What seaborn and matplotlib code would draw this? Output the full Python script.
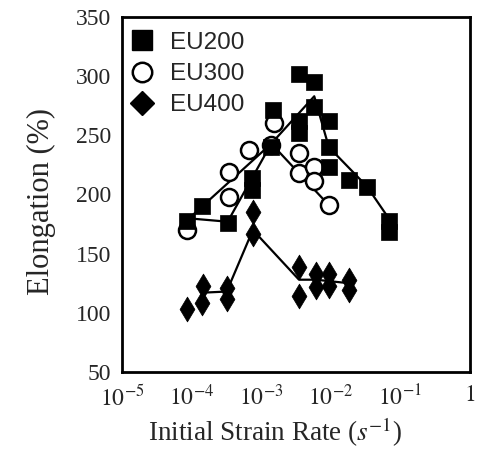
import matplotlib
matplotlib.use("Agg")
import matplotlib.pyplot as plt
from matplotlib.lines import Line2D
from matplotlib.ticker import LogLocator, MultipleLocator, FixedLocator, NullFormatter
import seaborn as sns
import pandas as pd

# Measured elongation versus initial strain rate
rate_eu200 = [8.5e-5, 1.4e-4, 3.3e-4, 7.5e-4, 7.5e-4, 1.4e-3, 1.5e-3, 3.5e-3, 3.5e-3,
              3.5e-3, 5.8e-3, 5.8e-3, 9.3e-3, 9.3e-3, 9.5e-3, 0.0185, 0.033, 0.068, 0.068]
elong_eu200 = [178, 190, 176, 214, 204, 240, 271, 302, 262, 252, 295, 274, 262, 240,
               223, 212, 206, 178, 168]

rate_eu300 = [8.5e-5, 3.5e-4, 3.5e-4, 6.8e-4, 1.4e-3, 1.55e-3, 3.5e-3, 3.5e-3, 5.8e-3,
              5.8e-3, 9.4e-3]
elong_eu300 = [170, 219, 198, 238, 242, 260, 235, 218, 223, 211, 191]

rate_eu400 = [8.5e-5, 1.4e-4, 1.45e-4, 3.2e-4, 3.2e-4, 7.6e-4, 7.6e-4, 3.5e-3, 3.5e-3,
              6.1e-3, 6.1e-3, 9.4e-3, 9.4e-3, 0.0185, 0.0185]
elong_eu400 = [103, 108, 123, 121, 112, 185, 167, 139, 114, 133, 122, 133, 123, 128, 119]

# Trend lines through each series
trend_rate_eu200 = [8.5e-5, 3.3e-4, 1.4e-3, 5.8e-3, 9.4e-3, 0.033, 0.068]
trend_elong_eu200 = [180, 177, 243, 283, 240, 207, 180]
trend_rate_eu300 = [8.5e-5, 1.4e-3, 9.4e-3]
trend_elong_eu300 = [178, 243, 191]
trend_rate_eu400 = [1.4e-4, 3.2e-4, 7.6e-4, 3.5e-3, 6.1e-3, 0.0185]
trend_elong_eu400 = [117, 118, 170, 128, 128, 125]

series_names = ["EU200", "EU300", "EU400"]
x_tick_values = [1e-5, 1e-4, 1e-3, 1e-2, 1e-1, 1]
x_tick_labels = ["$10^{-5}$", "$10^{-4}$", "$10^{-3}$", "$10^{-2}$", "$10^{-1}$", "$1$"]
y_tick_values = [50, 100, 150, 200, 250, 300, 350]

sns.set_style("white")
plt.rcParams["font.family"] = ["Liberation Serif", "DejaVu Serif"]
plt.rcParams["mathtext.fontset"] = "stix"

fig = plt.figure(figsize=(4.93, 4.54), dpi=100)
ax = fig.add_axes([0.2475, 0.1806, 0.7055, 0.782])

lw = 1.6
for xs, ys in [(trend_rate_eu200, trend_elong_eu200),
               (trend_rate_eu300, trend_elong_eu300),
               (trend_rate_eu400, trend_elong_eu400)]:
    sns.lineplot(x=xs, y=ys, ax=ax, color="black", linewidth=lw,
                 estimator=None, sort=False, zorder=2)

df300 = pd.DataFrame({"rate": rate_eu300, "elong": elong_eu300})
df200 = pd.DataFrame({"rate": rate_eu200, "elong": elong_eu200})
df400 = pd.DataFrame({"rate": rate_eu400, "elong": elong_eu400})

sns.scatterplot(data=df300, x="rate", y="elong", ax=ax, marker="o", s=150,
                facecolor="white", edgecolor="black", linewidth=1.8, zorder=3)
sns.scatterplot(data=df200, x="rate", y="elong", ax=ax, marker="s", s=120,
                color="black", edgecolor="black", linewidth=0.5, zorder=4)
sns.scatterplot(data=df400, x="rate", y="elong", ax=ax, marker="d", s=160,
                color="black", edgecolor="black", linewidth=0.5, zorder=4)

ax.set_xscale("log")
ax.set_xlim(1e-5, 1)
ax.set_ylim(50, 350)

ax.xaxis.set_major_locator(FixedLocator(x_tick_values))
ax.set_xticklabels(x_tick_labels)
ax.xaxis.set_minor_locator(LogLocator(base=10, subs=[2, 3, 4, 5, 6, 7, 8, 9]))
ax.xaxis.set_minor_formatter(NullFormatter())
ax.yaxis.set_major_locator(FixedLocator(y_tick_values))
ax.yaxis.set_minor_locator(MultipleLocator(10))

ax.tick_params(axis="both", which="major", direction="in", length=6, width=1.5,
               labelsize=17, top=False, right=False)
ax.tick_params(axis="both", which="minor", direction="in", length=3, width=1.2,
               top=False, right=False)
ax.tick_params(axis="y", which="major", pad=8)
ax.tick_params(axis="x", which="major", pad=9)

for side in ax.spines.values():
    side.set_linewidth(2)
    side.set_color("black")

ax.set_xlabel("Initial Strain Rate ($s^{-1}$)", fontsize=19.5)
ax.set_ylabel("Elongation (%)", fontsize=22)
# label anchors in axes coordinates
ax.xaxis.set_label_coords(0.44, -0.123)
ax.yaxis.set_label_coords(-0.19, 0.48)

handles = [
    Line2D([], [], linestyle="none", marker="s", markersize=14, color="black"),
    Line2D([], [], linestyle="none", marker="o", markersize=14, markerfacecolor="white",
           markeredgecolor="black", markeredgewidth=1.8),
    Line2D([], [], linestyle="none", marker="D", markersize=12, color="black"),
]
leg = ax.legend(handles, series_names, loc="upper left", bbox_to_anchor=(0.006, 0.972),
                frameon=False,
                prop={"family": ["Liberation Sans", "DejaVu Sans"], "size": 17.5},
                handletextpad=0.6, labelspacing=0.38, borderaxespad=0.0,
                handlelength=1.1, borderpad=0.2)

fig.savefig("out.png", dpi=100)
